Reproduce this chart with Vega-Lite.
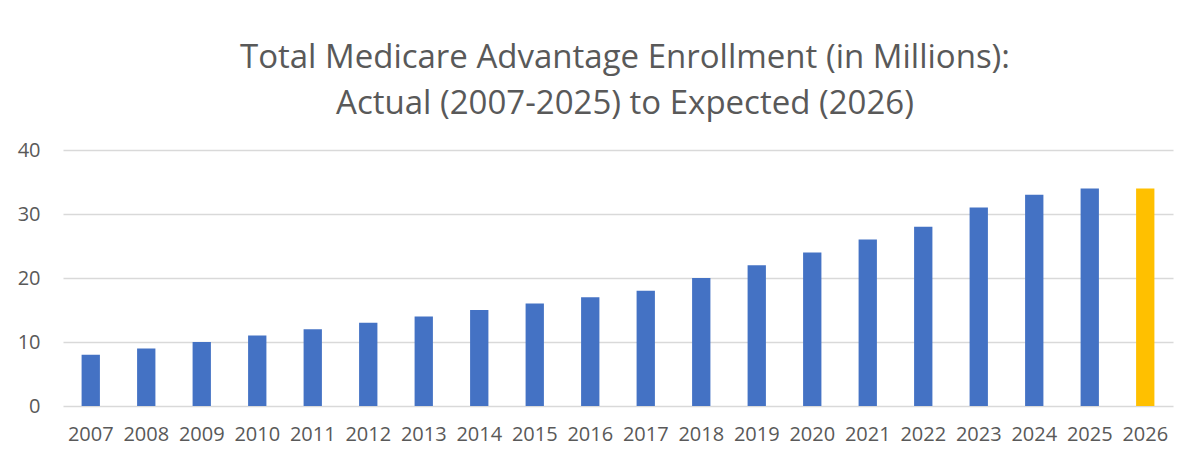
{
  "$schema": "https://vega.github.io/schema/vega-lite/v6.json",
  "autosize": {"type": "none"},
  "width": 1110,
  "height": 256,
  "padding": {"left": 63, "top": 150, "right": 26, "bottom": 59},
  "background": "white",
  "title": {
    "text": ["Total Medicare Advantage Enrollment (in Millions):", "Actual (2007-2025) to Expected (2026)"],
    "font": "Open Sans",
    "fontSize": 33,
    "fontWeight": "normal",
    "color": "#595959",
    "lineHeight": 46,
    "anchor": "middle",
    "dx": 7,
    "offset": 19
  },
  "data": {
    "values": [
      {"year": "2007", "enrollment": 8, "type": "Actual"},
      {"year": "2008", "enrollment": 9, "type": "Actual"},
      {"year": "2009", "enrollment": 10, "type": "Actual"},
      {"year": "2010", "enrollment": 11, "type": "Actual"},
      {"year": "2011", "enrollment": 12, "type": "Actual"},
      {"year": "2012", "enrollment": 13, "type": "Actual"},
      {"year": "2013", "enrollment": 14, "type": "Actual"},
      {"year": "2014", "enrollment": 15, "type": "Actual"},
      {"year": "2015", "enrollment": 16, "type": "Actual"},
      {"year": "2016", "enrollment": 17, "type": "Actual"},
      {"year": "2017", "enrollment": 18, "type": "Actual"},
      {"year": "2018", "enrollment": 20, "type": "Actual"},
      {"year": "2019", "enrollment": 22, "type": "Actual"},
      {"year": "2020", "enrollment": 24, "type": "Actual"},
      {"year": "2021", "enrollment": 26, "type": "Actual"},
      {"year": "2022", "enrollment": 28, "type": "Actual"},
      {"year": "2023", "enrollment": 31, "type": "Actual"},
      {"year": "2024", "enrollment": 33, "type": "Actual"},
      {"year": "2025", "enrollment": 34, "type": "Actual"},
      {"year": "2026", "enrollment": 34, "type": "Expected"}
    ]
  },
  "mark": {"type": "bar"},
  "encoding": {
    "x": {
      "field": "year",
      "type": "ordinal",
      "scale": {"paddingInner": 0.67, "paddingOuter": 0.335},
      "axis": {
        "title": null,
        "labelAngle": 0,
        "labelFont": "Open Sans",
        "labelFontSize": 20,
        "labelColor": "#595959",
        "labelPadding": 18,
        "ticks": false,
        "domain": false,
        "grid": false
      }
    },
    "y": {
      "field": "enrollment",
      "type": "quantitative",
      "scale": {"domain": [0, 40]},
      "axis": {
        "title": null,
        "values": [0, 10, 20, 30, 40],
        "labelFont": "Open Sans",
        "labelFontSize": 20,
        "labelColor": "#595959",
        "labelPadding": 23,
        "ticks": false,
        "domain": false,
        "grid": true,
        "gridColor": "#d9d9d9",
        "gridWidth": 1.3
      }
    },
    "color": {
      "field": "type",
      "type": "nominal",
      "scale": {"domain": ["Actual", "Expected"], "range": ["#4472C4", "#FFC000"]},
      "legend": null
    }
  },
  "config": {"view": {"stroke": null}}
}
